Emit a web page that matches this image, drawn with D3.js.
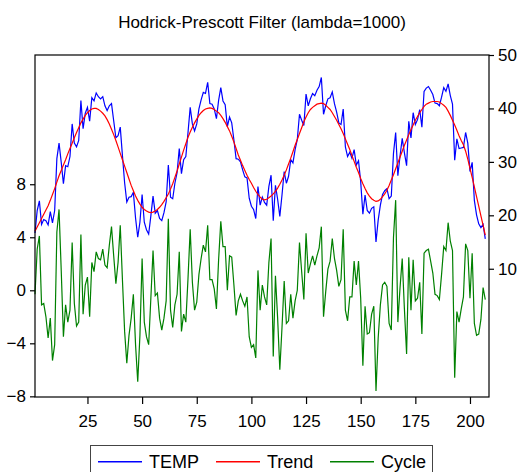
<!DOCTYPE html>
<html>
<head>
<meta charset="utf-8">
<script src="https://cdn.jsdelivr.net/npm/d3@7"></script>
<style>
  body { margin: 0; background: #fff; }
  svg text { font-family: "Liberation Sans", Arial, sans-serif; fill: #000; }
</style>
</head>
<body>
<div id="chart"></div>
<script>
const temp = [
  16.7,20.9,22.7,18.3,19.2,19.0,18.2,20.7,18.6,20.9,
  30.6,33.5,29.9,25.9,29.3,29.1,31.0,37.1,33.5,32.8,
  34.0,41.5,36.2,39.1,40.2,37.6,42.0,41.4,42.9,42.2,
  41.8,42.2,40.5,39.6,40.5,40.9,37.7,34.5,34.9,36.5,
  31.2,26.1,22.5,23.4,23.5,24.3,19.5,15.9,18.7,23.9,
  18.7,17.3,16.5,19.9,23.6,20.4,20.9,19.4,19.0,20.5,
  22.5,29.4,23.4,23.1,26.0,28.0,32.5,27.8,30.4,31.0,
  35.5,40.2,37.1,35.8,37.1,39.9,41.6,43.0,42.8,44.9,
  40.9,40.8,39.9,38.1,41.5,43.9,41.4,40.7,36.6,38.4,
  37.3,34.1,30.6,30.5,30.0,28.5,27.2,27.0,23.2,21.7,
  21.1,19.4,25.4,21.9,23.4,22.4,21.9,25.4,27.5,19.0,
  25.6,23.0,19.8,23.8,28.2,26.0,27.3,30.4,29.8,32.3,
  34.2,38.9,37.8,36.8,42.7,40.5,41.8,42.8,42.4,43.4,
  44.1,45.8,38.9,40.5,41.8,42.0,43.1,40.9,39.3,37.3,
  37.0,39.9,32.8,31.0,31.8,30.7,32.3,29.4,30.2,26.3,
  20.2,23.8,20.9,20.4,21.3,21.6,15.0,19.1,21.9,23.9,
  24.6,25.0,23.1,23.6,31.6,35.5,27.4,31.1,34.4,31.7,
  29.3,37.6,34.5,39.2,37.0,37.9,39.8,36.5,43.2,43.8,
  44.1,43.4,42.6,41.0,40.9,40.5,42.1,43.9,43.2,44.6,
  42.4,40.8,30.3,34.3,32.5,32.6,32.7,35.5,33.5,28.2,
  29.9,22.8,20.1,18.4,17.7,18.3,15.6
];

const trend = [
  17.0,17.8,18.6,19.4,20.2,21.0,21.8,22.8,23.9,25.0,
  26.2,27.4,28.4,29.4,30.4,31.5,32.5,33.5,34.5,35.5,
  36.4,37.3,38.0,38.7,39.2,39.6,39.9,40.0,40.0,39.8,
  39.5,39.1,38.6,37.9,37.1,36.1,35.1,34.0,32.8,31.6,
  30.4,29.2,28.0,26.8,25.6,24.6,23.6,22.8,22.1,21.5,
  21.1,20.8,20.6,20.5,20.6,20.8,21.1,21.5,22.0,22.6,
  23.3,24.0,24.9,25.9,27.1,28.3,29.6,30.9,32.2,33.4,
  34.6,35.6,36.5,37.3,38.0,38.7,39.2,39.6,39.9,40.0,
  40.1,40.0,39.8,39.5,39.2,38.7,38.1,37.4,36.6,35.8,
  34.8,33.7,32.5,31.3,30.3,29.3,28.4,27.5,26.7,26.0,
  25.2,24.5,23.9,23.4,23.0,22.9,23.0,23.3,23.6,24.0,
  24.5,25.1,25.8,26.6,27.5,28.5,29.6,30.7,31.9,33.1,
  34.2,35.3,36.4,37.5,38.4,39.2,39.8,40.2,40.5,40.8,
  40.9,41.0,40.9,40.6,40.2,39.8,39.2,38.5,37.8,37.0,
  36.2,35.3,34.3,33.3,32.3,31.2,30.1,29.0,28.0,26.9,
  25.9,25.0,24.2,23.6,23.1,22.8,22.6,22.7,23.0,23.5,
  24.0,24.7,25.6,26.6,27.6,28.7,29.8,30.9,32.0,33.1,
  34.1,35.1,36.0,36.9,37.8,38.5,39.2,39.8,40.4,40.8,
  41.0,41.2,41.3,41.3,41.3,41.2,40.9,40.6,40.2,39.5,
  38.7,37.8,36.9,35.9,34.9,34.0,33.2,32.0,30.5,28.8,
  27.1,25.3,23.5,21.7,19.9,18.1,16.3
];

const cycle = [
  -0.3,3.1,4.1,-1.1,-1.0,-2.0,-3.6,-2.1,-5.3,-4.1,
  4.4,6.1,1.5,-3.5,-1.1,-2.4,-1.5,3.6,-1.0,-2.7,
  -2.4,4.2,-1.8,0.4,1.0,-2.0,2.1,1.4,2.9,2.4,
  2.3,3.1,1.9,1.7,3.4,4.8,2.6,0.5,2.1,4.9,
  0.8,-3.1,-5.5,-3.4,-2.1,-0.3,-4.1,-6.9,-3.4,2.4,
  -2.4,-3.5,-4.1,-0.6,3.0,-0.4,-0.2,-2.1,-3.0,-2.1,
  -0.8,5.4,-1.5,-2.8,-1.1,-0.3,2.9,-3.1,-1.8,-2.4,
  0.9,4.6,0.6,-1.5,-0.9,1.2,2.4,3.4,2.9,4.9,
  0.8,0.8,0.1,-1.4,2.3,5.2,3.3,3.3,0.0,2.6,
  2.5,0.4,-1.9,-0.8,-0.3,-0.8,-1.2,-0.5,-3.5,-4.3,
  -4.1,-5.1,1.5,-1.5,0.4,-0.5,-1.1,2.1,3.9,-5.0,
  1.1,-2.1,-6.0,-2.8,0.7,-2.5,-2.3,-0.3,-2.1,-0.8,
  0.0,3.6,1.4,-0.7,4.3,1.3,2.0,2.6,1.9,2.6,
  3.2,4.8,-2.0,-0.1,1.6,2.2,3.9,2.4,1.5,0.3,
  0.8,4.6,-1.5,-2.3,-0.5,-0.5,2.2,0.4,2.2,-0.6,
  -5.7,-1.2,-3.3,-3.2,-1.8,-1.2,-7.6,-3.6,-1.1,0.4,
  0.6,0.3,-2.5,-3.0,4.0,6.8,-2.4,0.2,2.4,-1.4,
  -4.8,2.5,-1.5,2.3,-0.8,-0.6,0.6,-3.3,2.8,3.0,
  3.1,2.2,1.3,-0.3,-0.4,-0.7,1.2,3.3,3.0,5.1,
  3.7,3.0,-6.6,-1.6,-2.4,-1.4,-0.5,3.5,3.0,-0.6,
  2.8,-2.5,-3.4,-3.3,-2.2,0.2,-0.7
];

const xTicks = [25, 50, 75, 100, 125, 150, 175, 200];
const xMinorTicks = d3.range(5, 206, 5);
const leftTicks = [-8, -4, 0, 4, 8];
const rightTicks = [10, 20, 30, 40, 50];
const seriesNames = ["TEMP", "Trend", "Cycle"];
const seriesColors = ["#0000ff", "#ff0000", "#008000"];
const title = "Hodrick-Prescott Filter (lambda=1000)";

function draw_chart() {
    const width = 524, height = 472;
    const box = { left: 35, right: 489, top: 55, bottom: 397 };

    const svg = d3.select("#chart").append("svg")
        .attr("width", width).attr("height", height);

    const x = d3.scaleLinear().domain([1, 208.7]).range([box.left, box.right]);
    const yLeft = d3.scaleLinear().domain([-8.05, 17.75]).range([box.bottom, box.top]);
    const yRight = d3.scaleLinear().domain([-14, 50]).range([box.bottom, box.top]);

    // titre
    svg.append("text")
        .attr("x", width / 2).attr("y", 28)
        .attr("text-anchor", "middle")
        .style("font-size", "17px")
        .text(title);

    // series (TEMP & Trend on the right scale, Cycle on the left one)
    const lineR = d3.line().x((d, i) => x(i + 1)).y(d => yRight(d));
    const lineL = d3.line().x((d, i) => x(i + 1)).y(d => yLeft(d));

    const plot = svg.append("g");
    plot.append("path").datum(temp).attr("d", lineR)
        .attr("fill", "none").attr("stroke", seriesColors[0]).attr("stroke-width", 1.2);
    plot.append("path").datum(trend).attr("d", lineR)
        .attr("fill", "none").attr("stroke", seriesColors[1]).attr("stroke-width", 1.2);
    plot.append("path").datum(cycle).attr("d", lineL)
        .attr("fill", "none").attr("stroke", seriesColors[2]).attr("stroke-width", 1.2);

    // cadre
    svg.append("rect")
        .attr("x", box.left).attr("y", box.top)
        .attr("width", box.right - box.left).attr("height", box.bottom - box.top)
        .attr("fill", "none").attr("stroke", "#000").attr("stroke-width", 1.2);

    // axes
    const gx = svg.append("g").attr("transform", `translate(0,${box.bottom})`);
    gx.call(d3.axisBottom(x).tickValues(xMinorTicks).tickSize(5).tickFormat(""));
    gx.call(d3.axisBottom(x).tickValues(xTicks).tickSize(7).tickPadding(11));

    const gl = svg.append("g").attr("transform", `translate(${box.left},0)`)
        .call(d3.axisLeft(yLeft).tickValues(leftTicks).tickSize(5).tickPadding(4));

    const gr = svg.append("g").attr("transform", `translate(${box.right},0)`)
        .call(d3.axisRight(yRight).tickValues(rightTicks).tickSize(5).tickPadding(4));

    [gx, gl, gr].forEach(g => {
        g.selectAll(".domain").remove();
        g.selectAll("line").attr("stroke", "#000").attr("stroke-width", 1.2);
        g.selectAll("text")
            .style("font-size", "17px")
            .style("font-family", '"Liberation Sans", Arial, sans-serif')
            .attr("fill", "#000");
    });

    // legende
    const legend = svg.append("g");
    legend.append("rect")
        .attr("x", 90.5).attr("y", 445.5).attr("width", 342).attr("height", 40)
        .attr("fill", "#fff").attr("stroke", "#444").attr("stroke-width", 1);

    const legX = [98, 216, 330];
    seriesNames.forEach((name, i) => {
        legend.append("line")
            .attr("x1", legX[i]).attr("x2", legX[i] + 44)
            .attr("y1", 461.75).attr("y2", 461.75)
            .attr("stroke", seriesColors[i]).attr("stroke-width", 1.5);
        legend.append("text")
            .attr("x", legX[i] + 51).attr("y", 468)
            .style("font-size", "18px")
            .text(name);
    });
}

draw_chart();
</script>
</body>
</html>
